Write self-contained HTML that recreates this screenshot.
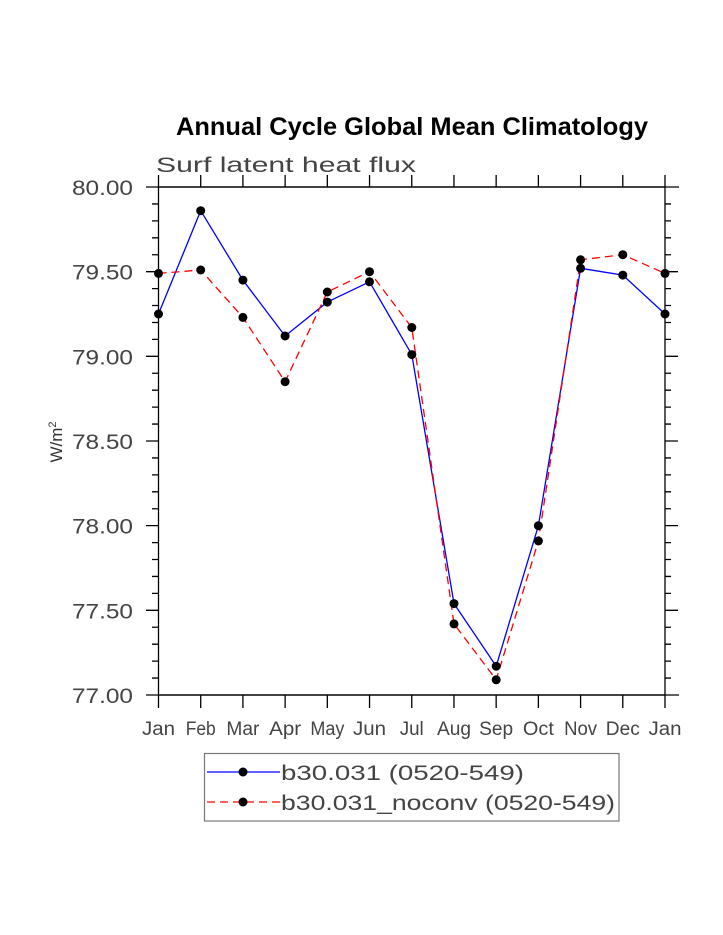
<!DOCTYPE html>
<html><head><meta charset="utf-8"><style>body{margin:0;background:#fff}svg{display:block}</style></head><body>
<svg width="723" height="935" xmlns="http://www.w3.org/2000/svg" font-family="Liberation Sans, sans-serif">
<text x="176" y="135" font-size="25" font-weight="bold" textLength="472" lengthAdjust="spacingAndGlyphs">Annual Cycle Global Mean Climatology</text>
<text x="156" y="172" font-size="21" fill="#444" textLength="260" lengthAdjust="spacingAndGlyphs">Surf latent heat flux</text>
<g stroke="#000" stroke-width="1.3" fill="none">
<rect x="158.5" y="187" width="506.5" height="508"/>
</g>
<g id="ax" stroke="#000" stroke-width="1.3"></g>
<g font-size="21" fill="#444" id="yl"></g>
<g font-size="19" fill="#444" id="xl"></g>
<text transform="translate(62,442) rotate(-90)" text-anchor="middle" font-size="17" fill="#333">W/m<tspan dy="-6" font-size="11">2</tspan></text>
<polyline fill="none" stroke="#00f" stroke-width="1.3" points="158.5,314 200.7,210.7 242.9,280.1 285.1,336 327.3,302.1 369.5,281.8 411.8,354.6 454,603.6 496.2,666.2 538.4,525.7 580.6,268.3 622.8,275.1 665,314"/>
<polyline fill="none" stroke="#f00" stroke-width="1.3" stroke-dasharray="8,5" points="158.5,273.4 200.7,270 242.9,317.4 285.1,381.7 327.3,292 369.5,271.7 411.8,327.5 454,623.9 496.2,679.8 538.4,540.9 580.6,259.8 622.8,254.7 665,273.4"/>
<g id="mk"></g>
<rect x="204.5" y="753.5" width="414.5" height="67.5" fill="none" stroke="#777" stroke-width="1.2"/>
<line x1="207" y1="772" x2="280" y2="772" stroke="#00f" stroke-width="1.3"/>
<line x1="207" y1="802" x2="280" y2="802" stroke="#f00" stroke-width="1.3" stroke-dasharray="8,5"/>
<circle cx="243" cy="772" r="4.5"/><circle cx="243" cy="802" r="4.5"/>
<text x="281" y="780" font-size="21" fill="#444" textLength="243" lengthAdjust="spacingAndGlyphs">b30.031 (0520-549)</text>
<text x="281" y="810" font-size="21" fill="#444" textLength="334" lengthAdjust="spacingAndGlyphs">b30.031_noconv (0520-549)</text>
<script>
var ns="http://www.w3.org/2000/svg",ax=document.getElementById('ax'),d="";
function L(x1,y1,x2,y2){d+="M"+x1+" "+y1+"L"+x2+" "+y2;}
for(var i=0;i<=12;i++){var x=158.5+i*42.208;L(x,187,x,175);L(x,695,x,708);}
L(146,187,679,187);L(146,695,679,695);
for(var k=0;k<=30;k++){var y=187+k*16.933;if(k%5==0){L(146,y,159,y);L(665,y,678,y);}else{L(152,y,158.5,y);L(665,y,671,y);}}
var p=document.createElementNS(ns,'path');p.setAttribute('d',d);ax.appendChild(p);
var yl=document.getElementById('yl');
for(var j=0;j<7;j++){var t=document.createElementNS(ns,'text');t.setAttribute('x',72);t.setAttribute('y',187+j*84.667+8);t.setAttribute('textLength',61);t.setAttribute('lengthAdjust','spacingAndGlyphs');t.textContent=(80-j*0.5).toFixed(2);yl.appendChild(t);}
var m=["Jan","Feb","Mar","Apr","May","Jun","Jul","Aug","Sep","Oct","Nov","Dec","Jan"],w=[33,30,33,32,34,33,24,34,34,31,33,34,33],xl=document.getElementById('xl');
for(var i=0;i<13;i++){var t=document.createElementNS(ns,'text');t.setAttribute('x',158.5+i*42.208-w[i]/2);t.setAttribute('y',735);t.setAttribute('textLength',w[i]);t.setAttribute('lengthAdjust','spacingAndGlyphs');t.textContent=m[i];xl.appendChild(t);}
var mk=document.getElementById('mk');
document.querySelectorAll('polyline').forEach(function(pl){pl.getAttribute('points').split(' ').forEach(function(s){var a=s.split(',');var c=document.createElementNS(ns,'circle');c.setAttribute('cx',a[0]);c.setAttribute('cy',a[1]);c.setAttribute('r',4.5);mk.appendChild(c);});});
</script>
</svg>
</body></html>
